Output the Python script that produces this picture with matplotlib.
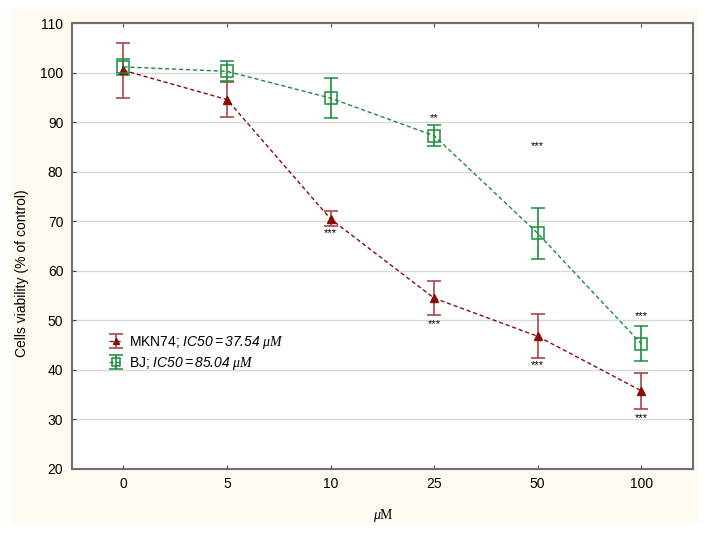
import matplotlib.pyplot as plt
from matplotlib.patches import Rectangle

plt.rcParams['font.family'] = ['Liberation Sans', 'DejaVu Sans']
plt.rcParams['mathtext.fontset'] = 'custom'
plt.rcParams['mathtext.it'] = 'Liberation Serif:italic'
plt.rcParams['mathtext.sf'] = 'Liberation Sans:italic'
plt.rcParams['mathtext.rm'] = 'Liberation Serif'

doses = ['0', '5', '10', '25', '50', '100']

mkn74_mean = [100.5, 94.6, 70.5, 54.5, 46.8, 35.8]
mkn74_err = [5.5, 3.5, 1.5, 3.5, 4.4, 3.6]
mkn74_stars = ['', '', '***', '***', '***', '***']
mkn74_star_y = [0, 0, 67.6, 49.3, 40.9, 30.3]

bj_mean = [101.2, 100.3, 94.9, 87.3, 67.6, 45.3]
bj_err = [1.6, 2.0, 4.0, 2.1, 5.2, 3.5]
bj_stars = ['', '', '', '**', '***', '***']
bj_star_y = [0, 0, 0, 90.8, 85.2, 50.9]

fig = plt.figure(figsize=(7.09, 5.35), dpi=100, facecolor='white')
fig.patches.append(Rectangle((0.017, 0.021), 0.968, 0.964, transform=fig.transFigure,
                             facecolor='#fffaf0', edgecolor='none', zorder=-10))
ax = fig.add_axes([0.1011, 0.1234, 0.8763, 0.833])
ax.set_facecolor('white')

x = range(len(doses))
red = '#8b0a0a'
green = '#1c8c3c'

ax.errorbar(x, mkn74_mean, yerr=mkn74_err, color=red, ecolor='#a84848',
            elinewidth=1.2, capsize=5, capthick=1.2, linestyle=(0, (3, 2)), linewidth=1,
            marker='^', markersize=6, markerfacecolor=red, markeredgecolor=red,
            label=r'MKN74; $\mathsf{IC50{=}37.54}$ $\mu M$', zorder=3)
ax.errorbar(x, bj_mean, yerr=bj_err, color=green, ecolor=green,
            elinewidth=1.2, capsize=5, capthick=1.2, linestyle=(0, (3, 2)), linewidth=1,
            marker='s', markersize=8, markerfacecolor='none', markeredgecolor=green,
            markeredgewidth=1.1, label=r'BJ; $\mathsf{IC50{=}85.04}$ $\mu M$', zorder=3)

for i in x:
    if mkn74_stars[i]:
        ax.text(i, mkn74_star_y[i], mkn74_stars[i], ha='center', va='center',
                fontsize=8, color='black')
    if bj_stars[i]:
        ax.text(i, bj_star_y[i], bj_stars[i], ha='center', va='center',
                fontsize=8, color='black')

ax.set_xlim(-0.5, 5.5)
ax.set_ylim(20, 110)
ax.set_xticks(list(x))
ax.set_xticklabels(doses)
ax.set_yticks(range(20, 111, 10))
ax.yaxis.grid(True, color='#d9d9d9', linewidth=1)
ax.set_axisbelow(True)
ax.tick_params(direction='in', length=3, top=True, right=True, labelsize=10,
               color='#444444', pad=6)
for s in ax.spines.values():
    s.set_color('#6e6e6e')
    s.set_linewidth(1.5)

ax.set_xlabel(r'$\mu$M', fontsize=10, family='Liberation Serif')
ax.xaxis.set_label_coords(0.502, -0.085)
ax.set_ylabel('Cells viability (% of control)', fontsize=10)
ax.yaxis.set_label_coords(-0.068, 0.44)

ax.legend(loc='upper left', bbox_to_anchor=(0.045, 0.325), frameon=False,
          fontsize=10, handlelength=1.0, handletextpad=0.4, labelspacing=0.3,
          borderpad=0.2, markerscale=0.7)

fig.savefig('out.png', dpi=100)
